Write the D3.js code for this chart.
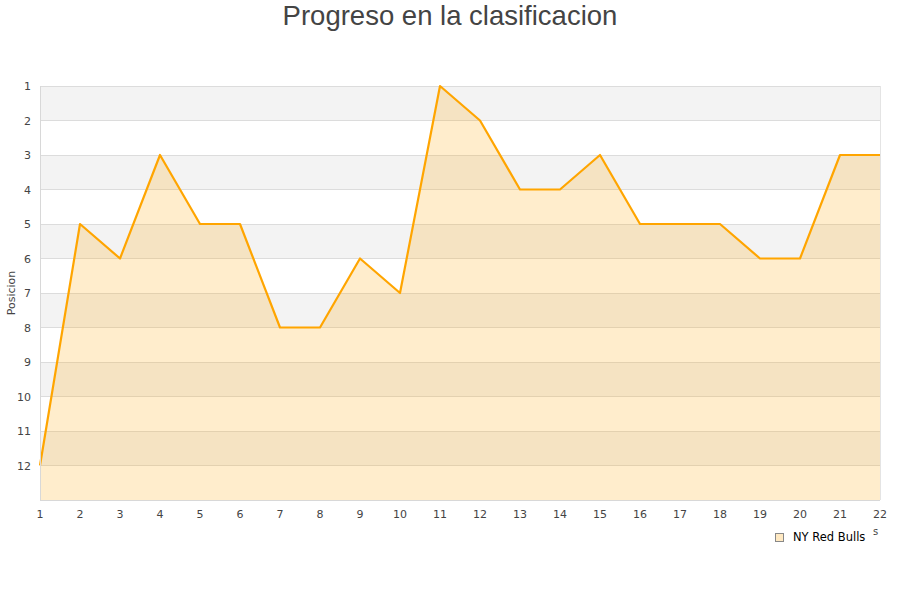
<!DOCTYPE html>
<html><head><meta charset="utf-8">
<script src="https://cdn.jsdelivr.net/npm/d3@7"></script>
<style>body{margin:0;background:#fff}</style>
</head><body>
<svg id="c" width="900" height="600"></svg>
<script>
const jornadas = [1,2,3,4,5,6,7,8,9,10,11,12,13,14,15,16,17,18,19,20,21,22];
const posiciones = [12,5,6,3,5,5,8,8,6,7,1,2,4,4,3,5,5,5,6,6,3,3];
const yTicks = [1,2,3,4,5,6,7,8,9,10,11,12];
const seriesName = "NY Red Bulls";
const title = "Progreso en la clasificacion";
const yTitle = "Posicion";

const svg = d3.select("#c");
const L=40,R=880,T=86,B=500;
const x = d3.scaleLinear().domain([1,22]).range([L,R]);
const y = d3.scaleLinear().domain([1,13]).range([T,B]);

const bands = d3.range(1,13);
svg.selectAll("rect.band").data(bands).enter().append("rect")
  .attr("x",L).attr("width",R-L)
  .attr("y",d=>y(d)).attr("height",d=>y(d+1)-y(d))
  .attr("fill",d=>d%2===1?"#f3f3f3":"#ffffff");
svg.selectAll("line.grid").data(d3.range(1,14)).enter().append("line")
  .attr("x1",L).attr("x2",R).attr("y1",d=>y(d)).attr("y2",d=>y(d))
  .attr("stroke","#dcdcdc").attr("stroke-width",1).attr("shape-rendering","crispEdges");

const data = jornadas.map((j,i)=>({j,p:posiciones[i]}));
const area = d3.area().x(d=>x(d.j)).y0(y(13)).y1(d=>y(d.p));
svg.append("path").datum(data).attr("d",area).attr("fill","rgba(255,165,0,0.2)");
const line = d3.line().x(d=>x(d.j)).y(d=>y(d.p));
svg.append("path").datum(data).attr("d",line).attr("fill","none")
  .attr("stroke","#ffa500").attr("stroke-width",2.2).attr("stroke-linejoin","round");

svg.append("line").attr("x1",L).attr("x2",L).attr("y1",T).attr("y2",B).attr("stroke","#d8d8d8").attr("shape-rendering","crispEdges");
svg.append("line").attr("x1",R).attr("x2",R).attr("y1",T).attr("y2",B).attr("stroke","#e4e4e4").attr("shape-rendering","crispEdges");
svg.append("line").attr("x1",L).attr("x2",R).attr("y1",B).attr("y2",B).attr("stroke","#d8d8d8").attr("shape-rendering","crispEdges");

svg.selectAll("text.yl").data(yTicks).enter().append("text")
  .attr("x",31).attr("y",d=>y(d)+4).attr("text-anchor","end")
  .attr("font-family","DejaVu Sans, sans-serif").attr("font-size",11).attr("fill","#444")
  .text(d=>d);
svg.selectAll("text.xl").data(jornadas).enter().append("text")
  .attr("x",d=>x(d)).attr("y",518).attr("text-anchor","middle")
  .attr("font-family","DejaVu Sans, sans-serif").attr("font-size",11).attr("fill","#444")
  .text(d=>d);

svg.append("text").attr("transform","translate(15,293) rotate(-90)").attr("text-anchor","middle")
  .attr("font-family","DejaVu Sans, sans-serif").attr("font-size",11).attr("fill","#444").text(yTitle);

svg.append("text").attr("x",450).attr("y",25).attr("text-anchor","middle")
  .attr("font-family","Liberation Sans, Arial, sans-serif").attr("font-size",27.5).attr("fill","#444").text(title);

svg.append("rect").attr("x",775.5).attr("y",533.5).attr("width",8).attr("height",8)
  .attr("fill","#ffe9c2").attr("stroke","#888").attr("stroke-width",1);
svg.append("text").attr("x",793).attr("y",541).attr("font-family","DejaVu Sans, sans-serif")
  .attr("font-size",11.5).attr("fill","#000").text(seriesName);
svg.append("text").attr("x",873).attr("y",535).attr("font-family","DejaVu Sans, sans-serif")
  .attr("font-size",10).attr("fill","#444").text("s");
</script>
</body></html>
